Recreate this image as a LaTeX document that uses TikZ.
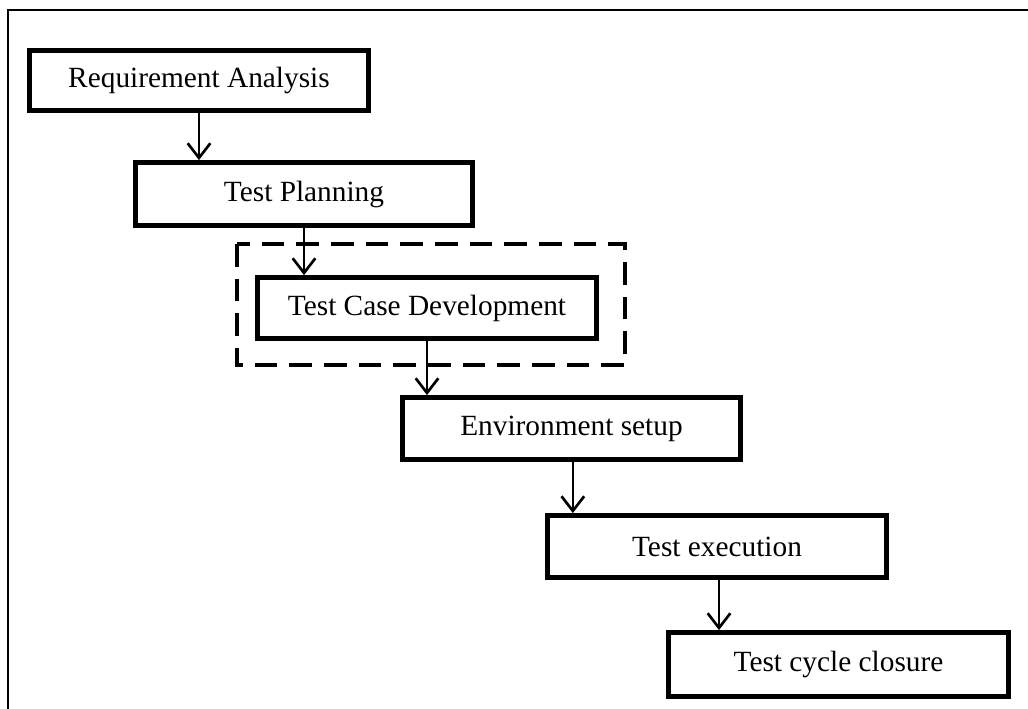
\documentclass[tikz,border=0pt]{standalone}
\usepackage{fontspec}
\setmainfont{Liberation Serif}
\usetikzlibrary{arrows.meta,calc}
\begin{document}
\begin{tikzpicture}[x=0.75pt,y=-0.75pt,
  stagebox/.style={draw=black,line width=3.6pt,fill=white,rectangle,inner sep=0pt,
    font=\fontsize{22}{26}\selectfont},
  flow/.style={draw=black,line width=2pt,-{Straight Barb[length=11pt,width=17pt,line width=2pt]}},
  groupbox/.style={draw=black,line width=3.6pt,dash pattern=on 17pt off 9pt},
  frame/.style={draw=black,line width=2pt}]
\useasboundingbox (0,0) rectangle (1028,709);
% outer frame (cropped at right and bottom)
\coordinate (fbl) at (8,712);
\coordinate (ftl) at (8,10);
\coordinate (ftr) at (1031,10);
\draw[frame] (fbl) -- (ftl) -- (ftr);
% dashed group
\coordinate (g1) at (237,244);
\coordinate (g2) at (625,365);
\draw[groupbox] (g1) rectangle (g2);
% stages
\node[stagebox,minimum width=339pt*0.75,minimum height=60pt*0.75] (ra) at (199,80.5) {Requirement Analysis};
\node[stagebox,minimum width=337pt*0.75,minimum height=63pt*0.75] (tp) at (304,194) {Test Planning};
\node[stagebox,minimum width=339pt*0.75,minimum height=61pt*0.75] (tcd) at (427,308) {Test Case Development};
\node[stagebox,minimum width=338pt*0.75,minimum height=62pt*0.75] (env) at (571.5,428.5) {Environment setup};
\node[stagebox,minimum width=339pt*0.75,minimum height=62pt*0.75] (exe) at (717,546.5) {Test execution};
\node[stagebox,minimum width=340pt*0.75,minimum height=64pt*0.75] (tcc) at (838.5,664.5) {Test cycle closure};
% connectors
\draw[flow] (ra.south) -- (ra.south |- tp.north);
\draw[flow] (tp.south) -- (tp.south |- tcd.north);
\draw[flow] (tcd.south) -- (tcd.south |- env.north);
\draw[flow] ([xshift=1pt]env.south) -- ([xshift=1pt]env.south |- exe.north);
\draw[flow] ([xshift=1.5pt]exe.south) -- ([xshift=1.5pt]exe.south |- tcc.north);
\end{tikzpicture}
\end{document}
